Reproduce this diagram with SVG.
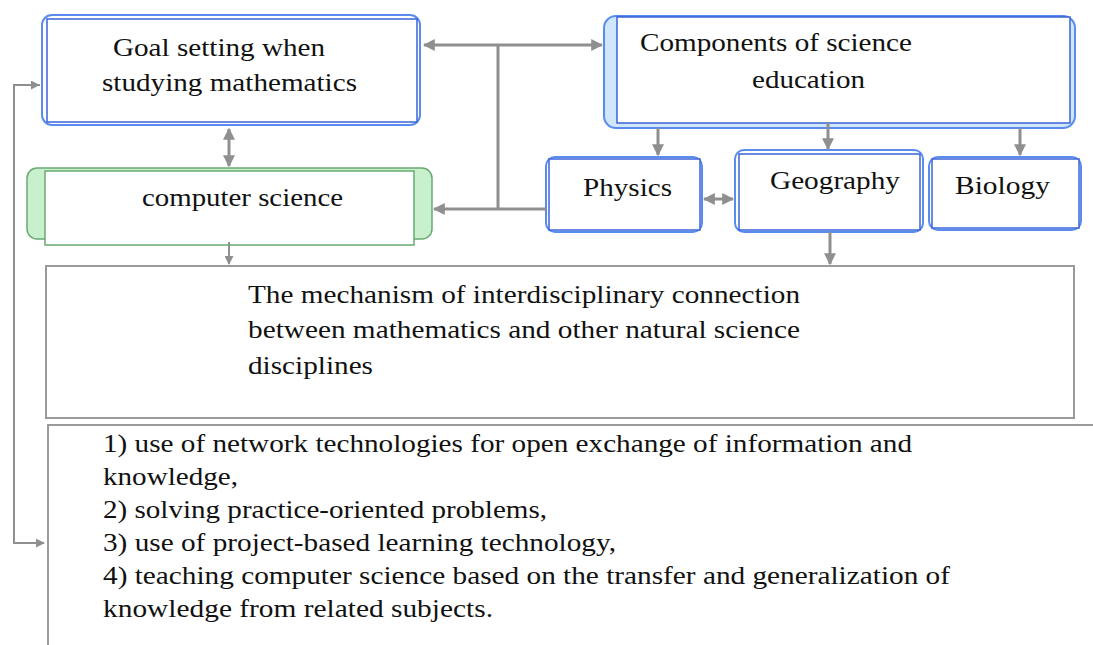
<svg xmlns="http://www.w3.org/2000/svg" width="1093" height="645" viewBox="0 0 1093 645">
<defs>
<marker id="ah" viewBox="0 0 10 10" refX="9" refY="5" markerWidth="12" markerHeight="12" orient="auto-start-reverse" markerUnits="userSpaceOnUse"><path d="M0,0 L10,5 L0,10 z" fill="#8f8f8f"/></marker>
<marker id="as" viewBox="0 0 10 10" refX="9" refY="5" markerWidth="9" markerHeight="9" orient="auto-start-reverse" markerUnits="userSpaceOnUse"><path d="M0,0 L10,5 L0,10 z" fill="#8f8f8f"/></marker>
<style>
text{font-family:'Liberation Serif','Times New Roman',serif;fill:#111111;font-size:26px}
.s{font-size:25px}
.ob{fill:#ffffff;stroke:#5a8cf0;stroke-width:2}
.ib{fill:#ffffff;stroke:#3a63d8;stroke-width:1.5}
.og{fill:#c8f0cc;stroke:#6aaa72;stroke-width:1.5}
.ig{fill:#ffffff;stroke:#6aaa72;stroke-width:1.5}
.gr{fill:#ffffff;stroke:#9a9a9a;stroke-width:2}
.c{fill:none;stroke:#8f8f8f;stroke-width:3}
.c2{fill:none;stroke:#8f8f8f;stroke-width:2}
</style>
</defs>
<rect width="1093" height="645" fill="#ffffff"/>
<g id="goal">
<rect class="ob" x="42" y="15" width="378" height="110" rx="10"/>
<rect class="ib" x="47" y="19" width="370" height="103"/>
<text x="113" y="56" textLength="212" lengthAdjust="spacingAndGlyphs">Goal setting when</text>
<text x="102" y="91" textLength="255" lengthAdjust="spacingAndGlyphs">studying mathematics</text>
</g>
<g id="cs">
<rect class="og" x="27" y="168" width="405" height="71" rx="10"/>
<rect class="ig" x="45" y="171" width="369" height="74"/>
<text x="142" y="206" textLength="201" lengthAdjust="spacingAndGlyphs">computer science</text>
</g>
<g id="components">
<rect x="604" y="16" width="471" height="112" rx="12" fill="#cfe6fb" stroke="#5a8cf0" stroke-width="2"/>
<rect class="ib" x="617" y="17" width="453" height="106"/>
<text x="640" y="51" textLength="272" lengthAdjust="spacingAndGlyphs">Components of science</text>
<text x="752" y="88" textLength="113" lengthAdjust="spacingAndGlyphs">education</text>
</g>
<g id="physics">
<rect class="ob" x="546" y="157" width="156" height="75" rx="9"/>
<rect class="ib" x="549" y="159" width="151" height="71"/>
<text x="583" y="196" textLength="89" lengthAdjust="spacingAndGlyphs">Physics</text>
</g>
<g id="geography">
<rect class="ob" x="735" y="150" width="188" height="82" rx="9"/>
<rect class="ib" x="739" y="154" width="181" height="76"/>
<text x="770" y="189" textLength="130" lengthAdjust="spacingAndGlyphs">Geography</text>
</g>
<g id="biology">
<rect class="ob" x="929" y="157" width="152" height="73" rx="9"/>
<rect class="ib" x="932" y="159" width="147" height="69"/>
<text x="955" y="194" textLength="95" lengthAdjust="spacingAndGlyphs">Biology</text>
</g>
<g id="mechanism">
<rect class="gr" x="46" y="266" width="1028" height="152"/>
<text x="248" y="303" textLength="552" lengthAdjust="spacingAndGlyphs">The mechanism of interdisciplinary connection</text>
<text x="248" y="338" textLength="552" lengthAdjust="spacingAndGlyphs">between mathematics and other natural science</text>
<text x="248" y="374" textLength="125" lengthAdjust="spacingAndGlyphs">disciplines</text>
</g>
<g id="list">
<path d="M1093,425 H48 V645" fill="none" stroke="#9a9a9a" stroke-width="2"/>
<text class="s" x="103" y="452" textLength="809" lengthAdjust="spacingAndGlyphs">1) use of network technologies for open exchange of information and</text>
<text class="s" x="103" y="485" textLength="135" lengthAdjust="spacingAndGlyphs">knowledge,</text>
<text class="s" x="103" y="518" textLength="444" lengthAdjust="spacingAndGlyphs">2) solving practice-oriented problems,</text>
<text class="s" x="103" y="551" textLength="513" lengthAdjust="spacingAndGlyphs">3) use of project-based learning technology,</text>
<text class="s" x="103" y="584" textLength="847" lengthAdjust="spacingAndGlyphs">4) teaching computer science based on the transfer and generalization of</text>
<text class="s" x="103" y="617" textLength="390" lengthAdjust="spacingAndGlyphs">knowledge from related subjects.</text>
</g>
<g id="connectors">
<line class="c" x1="424" y1="45" x2="602" y2="45" marker-start="url(#ah)" marker-end="url(#ah)"/>
<line class="c" x1="498" y1="45" x2="498" y2="209"/>
<line class="c" x1="546" y1="209" x2="434" y2="209" marker-end="url(#ah)"/>
<line class="c" x1="229" y1="129" x2="229" y2="166" marker-start="url(#ah)" marker-end="url(#ah)"/>
<line class="c" x1="658" y1="128" x2="658" y2="155" marker-end="url(#ah)"/>
<line class="c" x1="828" y1="123" x2="828" y2="149" marker-end="url(#ah)"/>
<line class="c" x1="1020" y1="128" x2="1020" y2="155" marker-end="url(#ah)"/>
<line class="c" x1="704" y1="199" x2="733" y2="199" marker-start="url(#ah)" marker-end="url(#ah)"/>
<line class="c" x1="830" y1="232" x2="830" y2="264" marker-end="url(#ah)"/>
<line class="c2" x1="229" y1="242" x2="229" y2="264" marker-end="url(#as)"/>
<path class="c2" d="M40,85 H14 V543 H44" marker-end="url(#as)"/>
<line class="c2" x1="14" y1="85" x2="39" y2="85" marker-end="url(#as)"/>
</g>
</svg>
